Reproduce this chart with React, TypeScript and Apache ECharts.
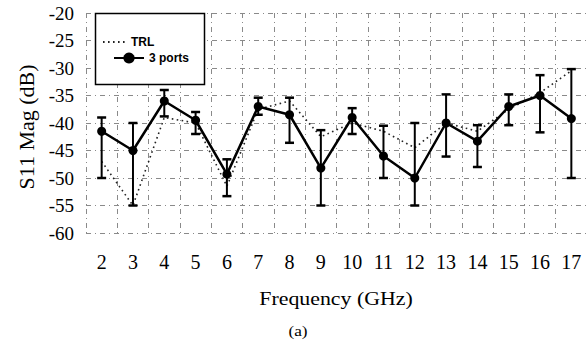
import React, { useEffect, useRef } from "react";
import * as echarts from "echarts";

const freqs = ["2", "3", "4", "5", "6", "7", "8", "9", "10", "11", "12", "13", "14", "15", "16", "17"];
const ports3 = [-41.5, -45, -36, -39.5, -49.3, -37, -38.5, -48.2, -39, -46, -50, -40, -43.3, -37, -35, -39.2];
const errHigh = [-39, -40, -34, -38, -46.6, -35.4, -35.4, -41.3, -37.3, -40.5, -40, -34.8, -40.4, -34.8, -31.3, -30.2];
const errLow = [-50, -55, -38.8, -42, -53.3, -38.5, -43.6, -55, -42, -50, -55, -46.1, -48, -40.4, -41.7, -50];
const trl = [-47, -55, -39, -40, -51.5, -37.5, -36, -42.5, -40, -41.5, -44.5, -40, -41.5, -37.5, -34.5, -30.5];
const yTicks = { min: -60, max: -20, interval: 5 };

const serif = "Liberation Serif";
const sans = "Liberation Sans";

export default function App() {
  const ref = useRef<HTMLDivElement>(null);
  useEffect(() => {
    if (!ref.current) return;
    const chart = echarts.init(ref.current, null, { renderer: "svg" });
    const errData = freqs.map((_, i) => [i, errLow[i], errHigh[i]]);
    const gridLine = { show: true, lineStyle: { color: "#8a8a8a", width: 1, type: [5, 4, 1, 4] as any } };
    chart.setOption({
      animation: false,
      backgroundColor: "#fff",
      textStyle: { fontFamily: serif },
      grid: { left: 86, right: 0, top: 13, bottom: 108 },
      xAxis: {
        type: "category",
        data: freqs,
        boundaryGap: true,
        axisLine: { show: false },
        axisTick: { show: false },
        splitLine: gridLine,
        axisLabel: { color: "#000", fontFamily: serif, fontSize: 20, margin: 19, interval: 0 },
      },
      yAxis: {
        type: "value",
        min: yTicks.min,
        max: yTicks.max,
        interval: yTicks.interval,
        axisLine: { show: false },
        axisTick: { show: false },
        splitLine: gridLine,
        axisLabel: { color: "#000", fontFamily: serif, fontSize: 19, margin: 12 },
      },
      legend: [
        {
          data: ["TRL"],
          left: 102,
          top: 36,
          padding: 0,
          itemWidth: 23,
          itemHeight: 14,
          itemStyle: { color: "rgba(0,0,0,0)", borderWidth: 0 },
          textStyle: { fontFamily: sans, fontWeight: "bold", fontSize: 12, color: "#000" },
          z: 5,
        },
        {
          data: ["3 ports"],
          left: 113,
          top: 52,
          padding: 0,
          itemWidth: 30,
          itemHeight: 14,
          textStyle: { fontFamily: sans, fontWeight: "bold", fontSize: 12, color: "#000" },
          z: 5,
        },
      ],
      graphic: [
        {
          type: "rect",
          z: 3,
          shape: { x: 95.5, y: 13.5, width: 109, height: 71 },
          style: { fill: "#fff", stroke: "#000", lineWidth: 1.5 },
        },
        {
          type: "text",
          x: 26,
          y: 127,
          rotation: Math.PI / 2,
          style: { text: "S11 Mag (dB)", font: `22px ${serif}`, fill: "#000", textAlign: "center", textVerticalAlign: "middle" },
        },
        {
          type: "text",
          x: 336,
          y: 299,
          scaleX: 1.15,
          style: { text: "Frequency (GHz)", font: `19px ${serif}`, fill: "#000", textAlign: "center", textVerticalAlign: "middle" },
        },
        {
          type: "text",
          x: 298,
          y: 331,
          scaleX: 1.15,
          style: { text: "(a)", font: `15px ${serif}`, fill: "#000", textAlign: "center", textVerticalAlign: "middle" },
        },
      ],
      series: [
        {
          name: "TRL",
          type: "line",
          data: trl,
          showSymbol: false,
          symbol: "none",
          itemStyle: { color: "#222" },
          lineStyle: { color: "#222", width: 1.6, type: [1.6, 3.4] as any },
          z: 2,
        },
        {
          name: "err",
          type: "custom",
          data: errData,
          encode: { x: 0, y: [1, 2] },
          renderItem: (params: any, api: any) => {
            const i = api.value(0);
            const lo = api.coord([i, api.value(1)]);
            const hi = api.coord([i, api.value(2)]);
            const hw = 4.5;
            const style = { stroke: "#000", lineWidth: 2 };
            return {
              type: "group",
              children: [
                { type: "line", shape: { x1: lo[0], y1: lo[1], x2: hi[0], y2: hi[1] }, style },
                { type: "line", shape: { x1: lo[0] - hw, y1: lo[1], x2: lo[0] + hw, y2: lo[1] }, style: { stroke: "#000", lineWidth: 2.5 } },
                { type: "line", shape: { x1: hi[0] - hw, y1: hi[1], x2: hi[0] + hw, y2: hi[1] }, style: { stroke: "#000", lineWidth: 2.5 } },
              ],
            };
          },
          z: 3,
        },
        {
          name: "3 ports",
          type: "line",
          data: ports3,
          symbol: "circle",
          symbolSize: 9,
          itemStyle: { color: "#000" },
          lineStyle: { color: "#000", width: 2.5 },
          z: 4,
        },
      ],
    });
    return () => chart.dispose();
  }, []);
  return <div ref={ref} style={{ width: 587, height: 341, position: "absolute", left: 0, top: 0 }} />;
}
